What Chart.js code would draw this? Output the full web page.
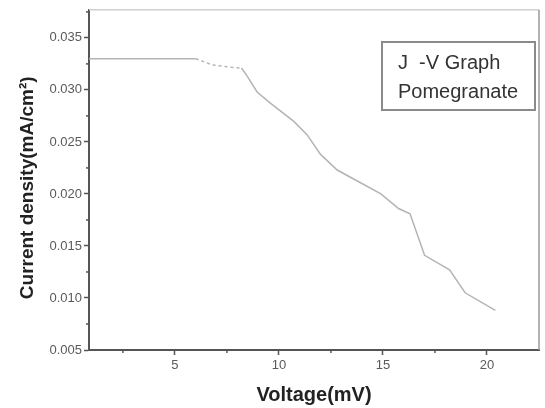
<!DOCTYPE html>
<html>
<head>
<meta charset="utf-8">
<script src="https://cdn.jsdelivr.net/npm/chart.js@4/dist/chart.umd.min.js"></script>
<style>
  html, body { margin: 0; padding: 0; background: #fff; }
  #wrap { width: 545px; height: 408px; }
</style>
</head>
<body>
<div id="wrap"><canvas id="jvChart" width="545" height="408"></canvas></div>
<script>
// values
const voltage = [0.87, 6.0, 6.8, 7.6, 8.2, 8.45, 8.95, 9.6, 10.7, 11.35, 12.0, 12.8, 13.9, 14.9, 15.75, 16.3, 17.0, 18.2, 18.95, 20.4];
const currentDensity = [0.0330, 0.0330, 0.0324, 0.0322, 0.0321, 0.0314, 0.0298, 0.0287, 0.0270, 0.0257, 0.0238, 0.0223, 0.0211, 0.0200, 0.0186, 0.0181, 0.0141, 0.0127, 0.0105, 0.0088];
const xTicks = [5, 10, 15, 20];
const yTicks = [0.005, 0.010, 0.015, 0.020, 0.025, 0.030, 0.035];
const legendLines = ["J  -V Graph", "Pomegranate"];

const FONT = "'Liberation Sans', Arial, sans-serif";

// minor ticks, frame and text box
const extras = {
  id: "extras",
  afterDraw(chart) {
    const ctx = chart.ctx;
    const { left, right, top, bottom } = chart.chartArea;
    const xs = chart.scales.x, ys = chart.scales.y;
    ctx.save();
    // top and right frame
    ctx.strokeStyle = "#d0d0d0";
    ctx.lineWidth = 1.5;
    ctx.beginPath();
    ctx.moveTo(left, top); ctx.lineTo(right, top);
    ctx.stroke();
    ctx.strokeStyle = "#9a9a9a";
    ctx.beginPath();
    ctx.moveTo(right, top); ctx.lineTo(right, bottom);
    ctx.stroke();

    // minor ticks
    ctx.strokeStyle = "#555";
    ctx.lineWidth = 1.5;
    for (let v = 2.5; v < xs.max; v += 5) {
      const px = xs.getPixelForValue(v);
      ctx.beginPath(); ctx.moveTo(px, bottom); ctx.lineTo(px, bottom + 3); ctx.stroke();
    }
    for (let v = 0.0075; v < ys.max; v += 0.005) {
      const py = ys.getPixelForValue(v);
      ctx.beginPath(); ctx.moveTo(left, py); ctx.lineTo(left - 3, py); ctx.stroke();
    }

    // legend box
    ctx.strokeStyle = "#8a8a8a";
    ctx.lineWidth = 2;
    ctx.strokeRect(382, 42, 153, 68);
    ctx.fillStyle = "#333";
    ctx.font = "20px " + FONT;
    ctx.textBaseline = "middle";
    ctx.fillText(legendLines[0], 398, 63);
    ctx.fillText(legendLines[1], 398, 92);
    ctx.restore();
  }
};

new Chart(document.getElementById("jvChart"), {
  type: "line",
  data: {
    datasets: [{
      data: voltage.map((v, i) => ({ x: v, y: currentDensity[i] })),
      borderColor: "#b4b4b4",
      borderWidth: 1.5,
      pointRadius: 0,
      tension: 0,
      fill: false,
      segment: {
        borderDash: ctx => (ctx.p0.parsed.x >= 5.9 && ctx.p1.parsed.x <= 8.3) ? [3, 3] : undefined
      }
    }]
  },
  plugins: [extras],
  options: {
    responsive: false,
    animation: false,
    layout: { padding: { top: 5, right: 6, left: 0, bottom: 0 } },
    plugins: { legend: { display: false }, tooltip: { enabled: false } },
    scales: {
      x: {
        type: "linear",
        min: 0.87,
        max: 22.5,
        afterBuildTicks: scale => { scale.ticks = xTicks.map(v => ({ value: v })); },
        afterFit: scale => { scale.height = 58; },
        grid: { drawOnChartArea: false, drawTicks: true, tickLength: 5, tickColor: "#555", tickWidth: 1.5 },
        border: { color: "#555", width: 2 },
        ticks: {
          color: "#5a5a5a",
          font: { family: FONT, size: 13 },
          padding: 3,
          maxRotation: 0,
          callback: v => String(v)
        },
        title: {
          display: true,
          text: "Voltage(mV)",
          color: "#222",
          font: { family: FONT, size: 20, weight: "bold" },
          padding: { top: 0, bottom: 1 }
        }
      },
      y: {
        min: 0.005,
        max: 0.0377,
        afterBuildTicks: scale => { scale.ticks = yTicks.map(v => ({ value: v })); },
        afterFit: scale => { scale.width = 89; },
        grid: { drawOnChartArea: false, drawTicks: true, tickLength: 5, tickColor: "#555", tickWidth: 1.5 },
        border: { color: "#555", width: 2 },
        ticks: {
          color: "#5a5a5a",
          font: { family: FONT, size: 13 },
          padding: 2,
          callback: v => v.toFixed(3)
        },
        title: {
          display: true,
          text: "Current density(mA/cm²)\u00a0\u00a0\u00a0",
          color: "#222",
          font: { family: FONT, size: 19, weight: "bold" },
          padding: { top: 16, bottom: 0 }
        }
      }
    }
  }
});
</script>
</body>
</html>
